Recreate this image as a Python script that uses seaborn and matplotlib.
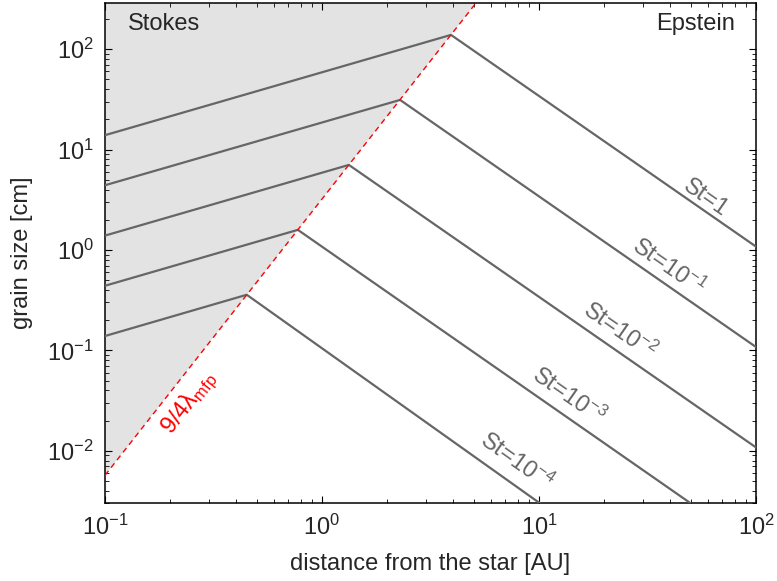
import numpy as np
import pandas as pd
import matplotlib
matplotlib.use("Agg")
import matplotlib.pyplot as plt
import matplotlib.ticker as mticker
import seaborn as sns

# ---- data ----
st_labels = ["St=1", "St=10$^{-1}$", "St=10$^{-2}$", "St=10$^{-3}$", "St=10$^{-4}$"]
r_left = [0.1, 0.1, 0.1, 0.1, 0.1]
a_left = [13.9, 4.41, 1.39, 0.44, 0.139]
r_kink = [3.93, 2.29, 1.33, 0.774, 0.450]
a_kink = [138.6, 31.2, 7.03, 1.586, 0.358]
r_end = [100.0, 100.0, 100.0, 50.0, 10.1]
a_end = [1.08, 0.108, 0.0108, 0.003, 0.003]

lam_r = [0.1, 5.2]
lam_a = [0.0057, 300.0]

label_r = [58.6, 39.7, 23.4, 13.7, 7.89]
label_a = [3.28, 0.683, 0.157, 0.0353, 0.0079]
lam_label_r, lam_label_a = 0.246, 0.0297

xlim = (0.1, 100.0)
ylim = (0.003, 290.0)

# ---- style ----
sns.set_theme(style="ticks")
plt.rcParams["font.family"] = ["Liberation Sans", "DejaVu Sans"]
plt.rcParams["mathtext.default"] = "regular"
plt.rcParams["mathtext.fontset"] = "custom"
plt.rcParams["mathtext.rm"] = "Liberation Sans"
plt.rcParams["mathtext.it"] = "Liberation Sans:italic"

fig = plt.figure(figsize=(7.77, 5.81), dpi=100)
fig.subplots_adjust(left=105 / 777, right=756 / 777, top=1 - 2.7 / 581, bottom=1 - 503.3 / 581)
ax = fig.add_subplot(111)
ax.set_xscale("log")
ax.set_yscale("log")
ax.set_xlim(*xlim)
ax.set_ylim(*ylim)

# Stokes region shading
ax.fill([lam_r[0], lam_r[1], lam_r[0]], [lam_a[0], lam_a[1], lam_a[1]],
        color="#e3e3e3", zorder=0, lw=0)

# St lines
rows = []
for i, lab in enumerate(st_labels):
    rows += [(lab, 0, r_left[i], a_left[i]), (lab, 1, r_kink[i], a_kink[i]), (lab, 2, r_end[i], a_end[i])]
df = pd.DataFrame(rows, columns=["St", "k", "r", "a"])
sns.lineplot(data=df, x="r", y="a", units="St", estimator=None, sort=False,
             color="#666666", lw=1.6, ax=ax, zorder=3)

# mean free path line
lam_df = pd.DataFrame({"r": lam_r, "a": lam_a})
sns.lineplot(data=lam_df, x="r", y="a", color="red", lw=1.0, ax=ax,
             dashes=False, zorder=4)
ax.lines[-1].set_dashes((4, 3))

ax.set_xlim(*xlim)
ax.set_ylim(*ylim)
ax.xaxis.set_major_locator(mticker.LogLocator(base=10, numticks=20))
ax.yaxis.set_major_locator(mticker.LogLocator(base=10, numticks=20))
ax.xaxis.set_minor_locator(mticker.LogLocator(base=10, subs=np.arange(2, 10), numticks=100))
ax.yaxis.set_minor_locator(mticker.LogLocator(base=10, subs=np.arange(2, 10), numticks=100))
ax.xaxis.set_minor_formatter(mticker.NullFormatter())
ax.yaxis.set_minor_formatter(mticker.NullFormatter())


def angle_of(p0, p1):
    d0 = ax.transData.transform(p0)
    d1 = ax.transData.transform(p1)
    return np.degrees(np.arctan2(d1[1] - d0[1], d1[0] - d0[0]))


fig.canvas.draw()
for i, lab in enumerate(st_labels):
    ang = angle_of((r_kink[i], a_kink[i]), (r_end[i], a_end[i]))
    ax.text(label_r[i], label_a[i], lab, color="#666666", fontsize=17,
            rotation=ang, rotation_mode="anchor", ha="center", va="center", zorder=5)

lam_ang = angle_of((lam_r[0], lam_a[0]), (lam_r[1], lam_a[1]))
ax.text(lam_label_r, lam_label_a, r"9/4$\lambda_{\rm mfp}$", color="red", fontsize=17,
        rotation=lam_ang, rotation_mode="anchor", ha="center", va="center", zorder=5)

ax.text(0.035, 0.958, "Stokes", transform=ax.transAxes, fontsize=17, ha="left", va="center")
ax.text(0.968, 0.958, "Epstein", transform=ax.transAxes, fontsize=17, ha="right", va="center")

ax.set_xlabel("distance from the star [AU]", fontsize=17)
ax.set_ylabel("grain size [cm]", fontsize=17)
ax.xaxis.set_label_coords(0.5, -0.099)
ax.yaxis.set_label_coords(-0.1106, 0.5)
ax.tick_params(axis="both", which="both", direction="in", top=True, right=True, labelsize=17, color="black")
ax.tick_params(which="major", length=5, width=0.8, pad=8)
ax.tick_params(which="minor", length=3, width=0.6)
for s in ax.spines.values():
    s.set_linewidth(1.1)
    s.set_color("black")

fig.savefig("out.png", dpi=100)
